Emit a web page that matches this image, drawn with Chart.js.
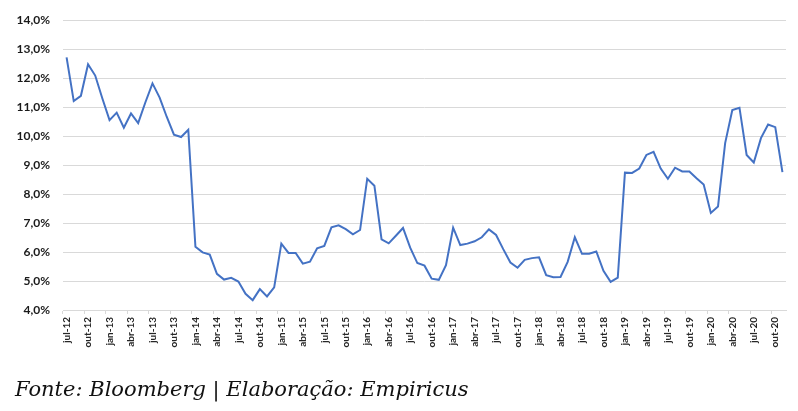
<!DOCTYPE html>
<html lang="pt-BR">
<head>
<meta charset="utf-8">
<title>Taxa mensal · Bloomberg</title>
<script src="https://cdn.jsdelivr.net/npm/chart.js@4/dist/chart.umd.min.js"></script>
<style>
  html, body { margin: 0; padding: 0; background: #fff; }
  #palco { position: relative; width: 798px; height: 411px; overflow: hidden; }
  #grafica { position: absolute; left: 0; top: 0; }
  #fonte {
    position: absolute; left: 15px; top: 379px;
    font: italic 21px/21px "DejaVu Serif", serif;
    color: #111; white-space: nowrap;
  }
</style>
</head>
<body>
<div id="palco">
  <canvas id="grafica" width="798" height="411"></canvas>
  <div id="fonte">Fonte: Bloomberg | Elaboração: Empiricus</div>
</div>

<script>
/* =============================================================================
 * Série mensal (%), jul-12 → nov-20. Rótulo no eixo X a cada 3 meses.
 * ========================================================================== */

const MESES = ['jan', 'fev', 'mar', 'abr', 'mai', 'jun', 'jul', 'ago', 'set', 'out', 'nov', 'dez'];
const MES_INICIAL = 6;      // jul
const ANO_INICIAL = 2012;

// valores, um por mês
const taxa = [
  12.72, 11.21, 11.39, 12.48, 12.09, 11.30,             // 2012 jul-dez
  10.55, 10.81, 10.29, 10.78, 10.45, 11.16,             // 2013
  11.82, 11.33, 10.66, 10.05, 9.97, 10.22,
  6.18, 5.99, 5.91, 5.25, 5.05, 5.11,                   // 2014
  4.98, 4.56, 4.34, 4.72, 4.47, 4.78,
  6.29, 5.97, 5.97, 5.60, 5.67, 6.13,                   // 2015
  6.21, 6.85, 6.92, 6.79, 6.61, 6.76,
  8.53, 8.29, 6.44, 6.30, 6.56, 6.83,                   // 2016
  6.15, 5.62, 5.53, 5.08, 5.04, 5.55,
  6.84, 6.24, 6.29, 6.37, 6.51, 6.78,                   // 2017
  6.59, 6.10, 5.64, 5.46, 5.73, 5.79,
  5.82, 5.20, 5.13, 5.14, 5.66, 6.51,                   // 2018
  5.94, 5.94, 6.02, 5.35, 4.97, 5.12,
  8.74, 8.73, 8.88, 9.35, 9.46, 8.88,                   // 2019
  8.53, 8.91, 8.78, 8.78, 8.55, 8.33,
  7.35, 7.57, 9.76, 10.90, 10.98, 9.35,                 // 2020
  9.09, 9.93, 10.40, 10.31, 8.76,
];

// rótulos "jul-12", "ago-12", ... (um por ponto)
const rotulos = taxa.map((_, i) => {
  const m = MES_INICIAL + i;
  const ano = ANO_INICIAL + Math.floor(m / 12);
  return MESES[m % 12] + '-' + String(ano).slice(2);
});

const Y_MIN = 4, Y_MAX = 14, Y_PASSO = 1;
const A_CADA = 3;   // mostrar um rótulo a cada 3 meses

const AZUL = '#4472C4';
const GRADE = '#d9d9d9';

function formatarPct(v) {
  return v.toFixed(1).replace('.', ',') + '%';
}

new Chart(document.getElementById('grafica'), {
  type: 'line',
  data: {
    labels: rotulos,
    datasets: [{
      data: taxa,
      borderColor: AZUL,
      borderWidth: 2,
      pointRadius: 0,
      tension: 0,
      fill: false,
    }],
  },
  options: {
    responsive: false,
    animation: false,
    devicePixelRatio: 1,
    layout: { padding: { top: 11, right: 12, left: 0, bottom: 0 } },
    plugins: { legend: { display: false }, tooltip: { enabled: false } },
    scales: {
      x: {
        type: 'category',
        offset: true,
        afterFit: (s) => { s.height = 101; },
        border: { color: GRADE, width: 1 },
        grid: {
          offset: true,
          drawOnChartArea: false,
          drawTicks: true,
          tickLength: 4,
          tickColor: (ctx) => (ctx.index !== undefined && ctx.index % A_CADA === 0) ? GRADE : 'rgba(0,0,0,0)',
        },
        ticks: {
          autoSkip: false,
          maxRotation: 90,
          minRotation: 90,
          padding: 3,
          color: '#262626',
          font: { family: 'Lato', weight: 'bold', size: 10 },
          callback: (v, i) => (i % A_CADA === 0 ? rotulos[i] : ''),
        },
      },
      y: {
        min: Y_MIN, max: Y_MAX,
        afterFit: (s) => { s.width = 63; },
        border: { display: false },
        grid: { color: GRADE, lineWidth: 1, drawTicks: false },
        ticks: {
          stepSize: Y_PASSO,
          padding: 13,
          color: '#1a1a1a',
          font: { family: 'Lato', weight: 'bold', size: 12 },
          callback: (v) => formatarPct(v),
        },
      },
    },
  },
});
</script>
</body>
</html>
